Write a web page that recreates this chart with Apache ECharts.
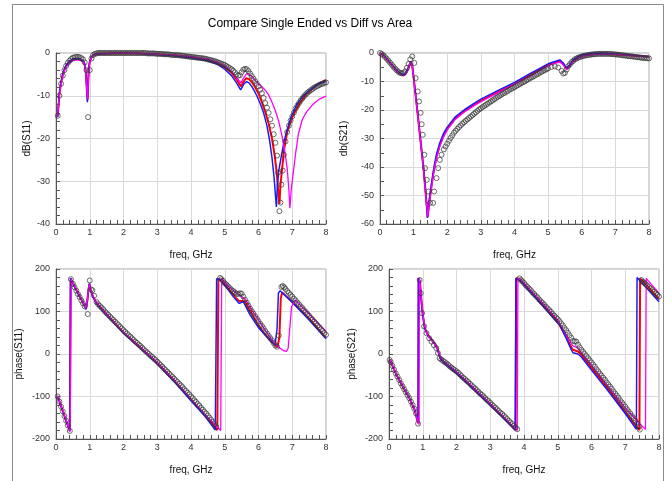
<!DOCTYPE html>
<html>
<head>
<meta charset="utf-8">
<script src="https://cdn.jsdelivr.net/npm/echarts/dist/echarts.min.js"></script>
<style>
  html, body { margin: 0; padding: 0; background: #fff; }
  #chart { width: 672px; height: 481px; }
</style>
</head>
<body>
<div id="chart"></div>
<script>
// dB(S11): [freq GHz, dB]
const s11dbBlue = [[0.05,-15],[0.1,-9.5],[0.15,-6.8],[0.2,-5],[0.25,-3.8],[0.3,-2.9],[0.4,-1.9],[0.5,-1.4],[0.6,-1.3],[0.7,-1.4],[0.8,-1.8],[0.85,-2.6],[0.88,-4],[0.91,-8],[0.93,-11.5],[0.95,-7.2],[0.97,-3.6],[1.0,-2],[1.05,-1],[1.1,-0.5],[1.2,-0.2],[1.5,-0.1],[2,0],[2.5,-0.1],[3,-0.35],[3.5,-0.65],[4,-1.1],[4.5,-1.8],[4.8,-2.7],[5,-3.8],[5.2,-5.3],[5.35,-7],[5.47,-8.6],[5.57,-7.2],[5.65,-6.7],[5.72,-7],[5.8,-7.8],[5.88,-8.9],[5.95,-10],[6.05,-11.8],[6.15,-14],[6.25,-17],[6.33,-20.5],[6.4,-24.5],[6.46,-29],[6.5,-33],[6.53,-36],[6.56,-31],[6.6,-27.5],[6.68,-24],[6.75,-21],[6.83,-18.4],[6.95,-15.3],[7.13,-12.1],[7.3,-10.2],[7.53,-8.6],[7.75,-7.4],[8,-6.6]];
const s11dbRed = [[0.05,-14.8],[0.1,-9.6],[0.15,-6.9],[0.2,-5.1],[0.25,-3.9],[0.3,-3],[0.4,-2],[0.5,-1.5],[0.6,-1.35],[0.7,-1.45],[0.8,-1.85],[0.85,-2.7],[0.88,-4.2],[0.91,-8],[0.935,-11],[0.955,-7],[0.975,-3.5],[1.0,-2],[1.05,-1],[1.1,-0.5],[1.2,-0.2],[1.5,-0.1],[2,0],[2.5,-0.1],[3,-0.3],[3.5,-0.55],[4,-0.95],[4.5,-1.6],[4.8,-2.4],[5,-3.3],[5.2,-4.6],[5.35,-6.2],[5.48,-7.8],[5.55,-6.8],[5.63,-5.9],[5.72,-6.1],[5.8,-6.8],[5.9,-8],[6,-9.5],[6.1,-11.5],[6.2,-13.8],[6.3,-16.5],[6.4,-20],[6.48,-24],[6.54,-28],[6.58,-32],[6.62,-35.3],[6.65,-31],[6.7,-27],[6.76,-22.5],[6.85,-18.5],[7,-15],[7.2,-12],[7.4,-9.8],[7.6,-8.3],[7.8,-7.1],[8,-6.3]];
const s11dbMagenta = [[0.05,-14.8],[0.1,-10],[0.15,-7.3],[0.2,-5.5],[0.25,-4.2],[0.3,-3.3],[0.4,-2.3],[0.5,-1.8],[0.6,-1.6],[0.7,-1.65],[0.8,-2],[0.85,-2.8],[0.88,-4.3],[0.91,-8],[0.935,-10.8],[0.955,-7],[0.975,-3.6],[1.0,-2.1],[1.05,-1.1],[1.1,-0.6],[1.2,-0.3],[1.5,-0.1],[2,0],[2.5,-0.1],[3,-0.3],[3.5,-0.5],[4,-0.85],[4.5,-1.45],[4.8,-2.2],[5,-3],[5.2,-4.3],[5.35,-5.8],[5.48,-7],[5.56,-5.8],[5.65,-4.8],[5.72,-4.9],[5.8,-5.5],[5.9,-6.4],[6,-7.2],[6.1,-7.9],[6.2,-8.7],[6.3,-9.8],[6.4,-11.5],[6.5,-13.5],[6.6,-16],[6.7,-19.5],[6.78,-23],[6.85,-27],[6.9,-32],[6.93,-36.3],[6.97,-32],[7.03,-28],[7.1,-23.5],[7.18,-19],[7.3,-15.5],[7.43,-13.7],[7.58,-12.3],[7.72,-11.3],[7.85,-10.6],[8,-10.1]];
const s11dbMeas = [[0.05,-14.7],[0.1,-10],[0.15,-7.2],[0.2,-5.3],[0.25,-4],[0.3,-3],[0.35,-2.3],[0.4,-1.8],[0.45,-1.4],[0.5,-1.1],[0.55,-1],[0.6,-0.9],[0.65,-0.9],[0.7,-1],[0.75,-1.2],[0.8,-1.5],[0.85,-2.2],[0.9,-4],[0.95,-15],[1.0,-4],[1.05,-1.3],[1.1,-0.5],[1.15,-0.2],[1.2,-0.1],[1.25,0],[1.3,0],[1.35,0],[1.4,0],[1.45,0],[1.5,0],[1.55,0],[1.6,0],[1.65,0],[1.7,0],[1.75,0],[1.8,0],[1.85,0],[1.9,0],[1.95,0],[2.0,0],[2.05,0],[2.1,0],[2.15,0],[2.2,0],[2.25,0],[2.3,0],[2.35,0],[2.4,0],[2.45,0],[2.5,0],[2.55,0],[2.6,0],[2.65,0],[2.7,-0.1],[2.75,-0.1],[2.8,-0.1],[2.85,-0.1],[2.9,-0.1],[2.95,-0.15],[3.0,-0.2],[3.05,-0.2],[3.1,-0.2],[3.15,-0.25],[3.2,-0.3],[3.25,-0.3],[3.3,-0.3],[3.35,-0.35],[3.4,-0.4],[3.45,-0.45],[3.5,-0.5],[3.55,-0.5],[3.6,-0.5],[3.65,-0.55],[3.7,-0.6],[3.75,-0.65],[3.8,-0.7],[3.85,-0.75],[3.9,-0.8],[3.95,-0.85],[4.0,-0.9],[4.05,-0.95],[4.1,-1],[4.15,-1.05],[4.2,-1.1],[4.25,-1.15],[4.3,-1.2],[4.35,-1.25],[4.4,-1.3],[4.45,-1.4],[4.5,-1.5],[4.55,-1.6],[4.6,-1.7],[4.65,-1.8],[4.7,-1.9],[4.75,-2.05],[4.8,-2.2],[4.85,-2.35],[4.9,-2.5],[4.95,-2.65],[5.0,-2.8],[5.05,-3.05],[5.1,-3.3],[5.15,-3.55],[5.2,-3.8],[5.25,-4.15],[5.3,-4.5],[5.35,-5],[5.4,-5.3],[5.45,-5.2],[5.5,-4.5],[5.55,-3.9],[5.6,-3.7],[5.65,-3.8],[5.7,-4.2],[5.75,-4.8],[5.8,-5.4],[5.85,-6],[5.9,-6.6],[5.95,-7.2],[6.0,-7.8],[6.05,-8.6],[6.1,-9.4],[6.15,-10.5],[6.2,-11.7],[6.25,-12.8],[6.3,-14],[6.35,-15.5],[6.4,-17],[6.45,-19],[6.5,-21],[6.55,-24],[6.58,-28],[6.62,-37],[6.65,-35],[6.68,-30.8],[6.72,-27.5],[6.75,-23.8],[6.8,-20.7],[6.85,-18.5],[6.9,-17],[6.95,-15.8],[7.0,-14.8],[7.05,-13.9],[7.1,-13],[7.15,-12.3],[7.2,-11.7],[7.25,-11.1],[7.3,-10.6],[7.35,-10.1],[7.4,-9.7],[7.45,-9.3],[7.5,-9],[7.55,-8.7],[7.6,-8.4],[7.65,-8.1],[7.7,-7.9],[7.75,-7.7],[7.8,-7.5],[7.85,-7.3],[7.9,-7.2],[7.95,-7.0],[8.0,-6.9]];

// dB(S21)
const s21dbBlue = [[0,0],[0.1,-0.8],[0.2,-2],[0.3,-3.4],[0.4,-4.8],[0.5,-6.1],[0.6,-7.1],[0.69,-7.6],[0.75,-7.2],[0.82,-5.8],[0.88,-4],[0.92,-2.9],[0.96,-4.5],[1.0,-8.5],[1.1,-19],[1.2,-30],[1.3,-41],[1.36,-49],[1.41,-57.9],[1.46,-52],[1.53,-46],[1.6,-40.5],[1.68,-35.5],[1.78,-31.5],[1.88,-28.5],[2,-26],[2.23,-22.5],[2.5,-20],[2.82,-17.5],[3,-16.2],[3.5,-13.2],[4,-10.3],[4.5,-7],[5,-3.8],[5.2,-3],[5.35,-2.4],[5.45,-3.5],[5.55,-5.3],[5.65,-4],[5.74,-2.4],[5.9,-1.2],[6.04,-0.6],[6.34,-0.1],[6.6,0],[7,-0.3],[7.5,-0.8],[8,-1.3]];
const s21dbRed = [[0,0],[0.1,-0.8],[0.2,-2.1],[0.3,-3.5],[0.4,-4.9],[0.5,-6.2],[0.6,-7.3],[0.69,-7.8],[0.75,-7.4],[0.82,-6],[0.88,-4.1],[0.92,-3],[0.96,-4.6],[1,-8.6],[1.1,-19.2],[1.2,-30.2],[1.3,-41.2],[1.36,-49.5],[1.42,-57.6],[1.47,-52],[1.54,-46],[1.61,-40.5],[1.69,-36],[1.78,-32.2],[1.88,-29.2],[2,-26.6],[2.23,-23],[2.5,-20.5],[2.82,-18],[3,-16.8],[3.5,-13.7],[4,-10.8],[4.5,-7.5],[5,-4.2],[5.2,-3.3],[5.35,-2.8],[5.45,-3.9],[5.55,-5.6],[5.65,-4.4],[5.74,-2.8],[5.9,-1.5],[6.04,-0.9],[6.34,-0.4],[6.6,-0.3],[7,-0.5],[7.5,-0.9],[8,-1.3]];
const s21dbMagenta = [[0,0],[0.1,-0.9],[0.2,-2.2],[0.3,-3.6],[0.4,-5],[0.5,-6.4],[0.6,-7.5],[0.7,-8],[0.76,-7.6],[0.82,-6.2],[0.88,-4.3],[0.92,-3.1],[0.96,-4.7],[1,-8.8],[1.1,-19.5],[1.2,-30.5],[1.3,-41.5],[1.36,-50],[1.42,-57.5],[1.47,-52.5],[1.54,-46.5],[1.61,-41],[1.69,-36.5],[1.78,-32.7],[1.88,-29.7],[2,-27],[2.23,-23.4],[2.5,-20.8],[2.82,-18.3],[3,-17.1],[3.5,-14],[4,-11],[4.5,-7.8],[5,-4.5],[5.2,-3.6],[5.35,-3.2],[5.45,-4.2],[5.55,-5.8],[5.65,-4.7],[5.74,-3.1],[5.9,-1.8],[6.04,-1.1],[6.34,-0.6],[6.6,-0.4],[7,-0.5],[7.5,-0.9],[8,-1.2]];
const s21dbMeas = [[0,0],[0.05,-0.3],[0.1,-0.8],[0.15,-1.4],[0.2,-2],[0.25,-2.7],[0.3,-3.4],[0.35,-4.1],[0.4,-4.8],[0.45,-5.5],[0.5,-6.1],[0.55,-6.6],[0.6,-7],[0.65,-7.1],[0.7,-7],[0.75,-6.4],[0.8,-5.2],[0.85,-3.8],[0.9,-2.2],[0.96,-1.2],[1.02,-3.5],[1.06,-8.8],[1.12,-13.5],[1.16,-17],[1.21,-21],[1.24,-25],[1.27,-28.7],[1.32,-35.7],[1.34,-40.4],[1.39,-44.5],[1.44,-48.6],[1.49,-52.6],[1.58,-52.6],[1.61,-48.6],[1.68,-43.9],[1.73,-40.4],[1.78,-37.5],[1.83,-35.7],[1.9,-33.8],[1.95,-32.8],[2,-31.8],[2.05,-30.8],[2.1,-29.8],[2.15,-28.9],[2.2,-28],[2.25,-27.3],[2.3,-26.6],[2.35,-26],[2.4,-25.4],[2.45,-24.8],[2.5,-24.3],[2.55,-23.8],[2.6,-23.3],[2.65,-22.8],[2.7,-22.3],[2.75,-21.8],[2.8,-21.3],[2.85,-20.8],[2.9,-20.3],[2.95,-19.8],[3,-19.4],[3.05,-19],[3.1,-18.6],[3.15,-18.2],[3.2,-17.8],[3.25,-17.4],[3.3,-17],[3.35,-16.6],[3.4,-16.2],[3.45,-15.8],[3.5,-15.4],[3.55,-15.1],[3.6,-14.7],[3.65,-14.3],[3.7,-14],[3.75,-13.6],[3.8,-13.3],[3.85,-12.9],[3.9,-12.6],[3.95,-12.3],[4,-12],[4.05,-11.6],[4.1,-11.3],[4.15,-10.9],[4.2,-10.6],[4.25,-10.3],[4.3,-10],[4.35,-9.6],[4.4,-9.3],[4.45,-8.9],[4.5,-8.6],[4.55,-8.3],[4.6,-8],[4.65,-7.6],[4.7,-7.3],[4.75,-6.9],[4.8,-6.6],[4.85,-6.3],[4.9,-6],[4.95,-5.7],[5,-5.4],[5.1,-4.9],[5.2,-4.7],[5.3,-5.1],[5.4,-6.3],[5.45,-7.2],[5.5,-7],[5.55,-5.8],[5.6,-4.6],[5.65,-3.9],[5.7,-3.2],[5.75,-2.7],[5.8,-2.2],[5.85,-1.9],[5.9,-1.6],[5.95,-1.4],[6,-1.2],[6.05,-1.05],[6.1,-0.9],[6.15,-0.8],[6.2,-0.7],[6.25,-0.6],[6.3,-0.5],[6.35,-0.45],[6.4,-0.4],[6.45,-0.35],[6.5,-0.3],[6.55,-0.3],[6.6,-0.3],[6.65,-0.3],[6.7,-0.3],[6.75,-0.3],[6.8,-0.3],[6.85,-0.35],[6.9,-0.4],[6.95,-0.45],[7,-0.5],[7.05,-0.55],[7.1,-0.6],[7.15,-0.7],[7.2,-0.8],[7.25,-0.85],[7.3,-0.9],[7.35,-1],[7.4,-1.1],[7.45,-1.15],[7.5,-1.2],[7.55,-1.3],[7.6,-1.4],[7.65,-1.45],[7.7,-1.5],[7.75,-1.6],[7.8,-1.7],[7.85,-1.75],[7.9,-1.8],[7.95,-1.85],[8,-1.9]];

// phase(S11), degrees
const s11phBlue = [[0.05,-100],[0.1,-112],[0.2,-135],[0.3,-158],[0.41,-182],[0.43,178],[0.5,166],[0.6,150],[0.7,135],[0.8,120],[0.89,105],[0.93,125],[0.96,150],[0.99,166],[1.03,150],[1.1,133],[1.2,119],[1.5,92],[2,49],[2.5,14],[3,-22],[3.5,-65],[4,-110],[4.4,-145],[4.72,-179],[4.76,177],[4.85,175],[5,162],[5.25,135],[5.43,119],[5.55,123],[5.75,92],[6,62],[6.24,41],[6.49,21],[6.55,60],[6.59,143],[6.64,149],[7,122],[7.5,80],[8,36]];
const s11phRed = [[0.05,-100],[0.1,-111],[0.2,-134],[0.3,-157],[0.41,-181],[0.435,178],[0.5,167],[0.6,151],[0.7,136],[0.8,121],[0.89,107],[0.93,127],[0.96,151],[0.99,165],[1.03,150],[1.1,134],[1.2,120],[1.5,93],[2,50],[2.5,15],[3,-21],[3.5,-63],[4,-108],[4.4,-143],[4.78,-179],[4.81,177],[4.88,175],[5,164],[5.2,145],[5.35,130],[5.42,125],[5.5,125],[5.6,124],[5.7,108],[5.8,95],[6,66],[6.2,45],[6.4,28],[6.56,16],[6.62,40],[6.66,130],[6.7,145],[7,122],[7.5,83],[8,38]];
const s11phMagenta = [[0.05,-98],[0.1,-110],[0.2,-133],[0.3,-156],[0.42,-182],[0.45,176],[0.5,168],[0.6,152],[0.7,137],[0.8,122],[0.89,108],[0.93,128],[0.96,152],[0.99,164],[1.03,150],[1.1,135],[1.2,121],[1.5,94],[2,51],[2.5,16],[3,-20],[3.5,-61],[4,-106],[4.4,-141],[4.88,-180],[4.91,178],[5.1,160],[5.3,146],[5.4,140],[5.5,135],[5.58,130],[5.65,124],[5.8,104],[6,80],[6.2,55],[6.44,29],[6.6,16],[6.74,8],[6.83,6],[6.88,14],[6.93,64],[6.98,111],[7.08,127],[7.5,94],[8,53]];
const s11phMeas = [[0.05,-100],[0.1,-112],[0.15,-124],[0.2,-135],[0.25,-146],[0.3,-157],[0.35,-168],[0.41,-181],[0.44,176],[0.5,165],[0.55,157],[0.6,149],[0.65,141],[0.7,134],[0.75,126],[0.8,119],[0.85,112],[0.94,94],[1.0,173],[1.04,152],[1.08,150],[1.13,137],[1.2,122],[1.25,117],[1.3,113],[1.35,109],[1.4,105],[1.45,100],[1.5,96],[1.55,92],[1.6,88],[1.65,84],[1.7,80],[1.75,76],[1.8,72],[1.85,68],[1.9,64],[1.95,60],[2,56],[2.05,52],[2.1,48],[2.15,44],[2.2,41],[2.25,37],[2.3,33],[2.35,29],[2.4,26],[2.45,22],[2.5,19],[2.55,15],[2.6,11],[2.65,7],[2.7,4],[2.75,0],[2.8,-4],[2.85,-7],[2.9,-11],[2.95,-14],[3,-18],[3.05,-22],[3.1,-26],[3.15,-30],[3.2,-34],[3.25,-38],[3.3,-42],[3.35,-46],[3.4,-50],[3.45,-54],[3.5,-58],[3.55,-62],[3.6,-66],[3.65,-70],[3.7,-74],[3.75,-78],[3.8,-83],[3.85,-87],[3.9,-91],[3.95,-95],[4,-100],[4.05,-104],[4.1,-109],[4.15,-113],[4.2,-118],[4.25,-122],[4.3,-127],[4.35,-131],[4.4,-136],[4.45,-140],[4.5,-145],[4.55,-150],[4.6,-155],[4.65,-160],[4.7,-165],[4.75,-172],[4.86,179],[4.9,176],[4.95,172],[5,167],[5.05,163],[5.1,159],[5.15,155],[5.2,151],[5.25,148],[5.3,145],[5.35,142],[5.4,141],[5.45,143],[5.5,142],[5.55,135],[5.6,128],[5.65,121],[5.7,114],[5.75,107],[5.8,101],[5.85,95],[5.9,89],[5.95,83],[6,77],[6.05,71],[6.1,66],[6.15,60],[6.2,54],[6.25,48],[6.3,43],[6.35,37],[6.4,32],[6.45,26],[6.5,20],[6.55,17],[6.6,43],[6.68,158],[6.72,160],[6.76,157],[6.8,153],[6.85,148],[6.9,144],[6.95,139],[7,135],[7.05,130],[7.1,126],[7.15,121],[7.2,117],[7.25,112],[7.3,108],[7.35,103],[7.4,99],[7.45,94],[7.5,90],[7.55,85],[7.6,81],[7.65,76],[7.7,72],[7.75,67],[7.8,63],[7.85,58],[7.9,54],[7.95,49],[8,45]];

// phase(S21), degrees
const s21phBlue = [[0.02,-13],[0.22,-49],[0.41,-76],[0.61,-104],[0.76,-131],[0.84,-155],[0.86,-162],[0.87,178],[0.91,172],[0.95,130],[0.99,96],[1.06,60],[1.15,44],[1.25,34],[1.35,24],[1.42,15],[1.47,2],[1.52,-10],[1.6,-18],[2,-45],[2.5,-82],[3,-120],[3.5,-160],[3.74,-179],[3.76,178],[3.85,176],[4.5,119],[4.96,76],[5.06,68],[5.25,37],[5.4,10],[5.45,3],[5.6,0],[5.7,-7],[6,-38],[6.5,-88],[7,-140],[7.33,-177],[7.35,180],[7.5,167],[8,123]];
const s21phRed = [[0.02,-13],[0.22,-49],[0.41,-77],[0.61,-105],[0.76,-132],[0.84,-157],[0.87,-163],[0.88,178],[0.92,170],[0.96,128],[1,94],[1.06,61],[1.15,45],[1.25,35],[1.35,25],[1.42,16],[1.47,3],[1.52,-9],[1.6,-17],[2,-44],[2.5,-81],[3,-119],[3.5,-158],[3.75,-179],[3.77,178],[3.86,177],[4.5,121],[5,76],[5.25,40],[5.4,16],[5.45,10],[5.6,6],[5.7,-2],[6,-33],[6.5,-84],[7,-136],[7.42,-179],[7.44,178],[7.6,165],[8,129]];
const s21phMagenta = [[0.02,-12],[0.22,-48],[0.41,-76],[0.61,-104],[0.76,-131],[0.85,-158],[0.89,-166],[0.9,178],[0.94,150],[0.98,112],[1.03,78],[1.1,52],[1.2,38],[1.3,28],[1.4,19],[1.46,8],[1.51,-5],[1.6,-15],[2,-42],[2.5,-79],[3,-117],[3.5,-156],[3.8,-180],[3.82,178],[3.9,175],[4.5,124],[5,80],[5.25,45],[5.4,24],[5.45,19],[5.6,14],[5.7,3],[6,-27],[6.5,-77],[7,-127],[7.5,-170],[7.6,-177],[7.62,178],[8,143]];
const s21phMeas = [[0.02,-14],[0.05,-19],[0.1,-28],[0.15,-37],[0.2,-46],[0.25,-53],[0.3,-61],[0.35,-69],[0.4,-76],[0.45,-83],[0.5,-90],[0.55,-97],[0.6,-104],[0.65,-112],[0.7,-120],[0.75,-129],[0.8,-140],[0.86,-164],[0.91,174],[0.94,143],[0.98,96],[1.04,65],[1.11,49],[1.19,37],[1.26,29],[1.33,21],[1.4,14],[1.45,2],[1.5,-10],[1.55,-13],[1.6,-16],[1.65,-19],[1.7,-22],[1.75,-25],[1.8,-29],[1.85,-32],[1.9,-35],[1.95,-38],[2,-41],[2.05,-44],[2.1,-48],[2.15,-52],[2.2,-56],[2.25,-59],[2.3,-63],[2.35,-66],[2.4,-70],[2.45,-74],[2.5,-78],[2.55,-81],[2.6,-85],[2.65,-89],[2.7,-93],[2.75,-96],[2.8,-100],[2.85,-104],[2.9,-108],[2.95,-111],[3,-115],[3.05,-119],[3.1,-123],[3.15,-126],[3.2,-130],[3.25,-134],[3.3,-138],[3.35,-141],[3.4,-145],[3.45,-149],[3.5,-153],[3.55,-157],[3.6,-161],[3.65,-165],[3.7,-169],[3.75,-173],[3.8,-177],[3.87,178],[3.91,174],[3.95,171],[4,167],[4.05,162],[4.1,158],[4.15,154],[4.2,150],[4.25,145],[4.3,141],[4.35,137],[4.4,133],[4.45,128],[4.5,124],[4.55,120],[4.6,116],[4.65,111],[4.7,107],[4.75,103],[4.8,99],[4.85,94],[4.9,90],[4.95,86],[5,82],[5.05,77],[5.1,72],[5.15,67],[5.2,61],[5.25,56],[5.3,50],[5.35,44],[5.4,38],[5.45,31],[5.5,30],[5.55,29],[5.6,22],[5.65,16],[5.7,10],[5.75,5],[5.8,0],[5.85,-5],[5.9,-10],[5.95,-15],[6,-20],[6.05,-25],[6.1,-30],[6.15,-36],[6.2,-41],[6.25,-46],[6.3,-51],[6.35,-56],[6.4,-61],[6.45,-67],[6.5,-72],[6.55,-77],[6.6,-82],[6.65,-88],[6.7,-93],[6.75,-98],[6.8,-103],[6.85,-109],[6.9,-114],[6.95,-119],[7,-124],[7.05,-130],[7.1,-135],[7.15,-140],[7.2,-146],[7.25,-151],[7.3,-157],[7.35,-163],[7.4,-170],[7.43,-178],[7.48,174],[7.52,170],[7.55,168],[7.6,165],[7.65,161],[7.7,157],[7.75,154],[7.8,150],[7.85,146],[7.9,142],[7.95,139],[8,135]];

const titleText = 'Compare Single Ended vs Diff vs Area';
const yNames = ['dB(S11)', 'db(S21)', 'phase(S11)', 'phase(S21)'];
const xName = 'freq, GHz';

const font = '"Liberation Sans", Arial, sans-serif';

// plot boxes
const grids = [
    { left: 56, top: 53, width: 270, height: 171 },
    { left: 380, top: 53, width: 269, height: 171 },
    { left: 56, top: 269, width: 270, height: 170 },
    { left: 389, top: 269, width: 270, height: 170 }
];

const yRanges = [
    { min: -40, max: 0, interval: 10, minor: 5, gap: 24 },
    { min: -60, max: 0, interval: 10, minor: 2, gap: 31 },
    { min: -200, max: 200, interval: 100, minor: 5, gap: 32 },
    { min: -200, max: 200, interval: 100, minor: 5, gap: 32 }
];

const axisCommon = {
    nameLocation: 'middle',
    nameTextStyle: { fontSize: 10, color: '#111', fontFamily: font },
    axisLine: { onZero: false, lineStyle: { color: '#555', width: 1 } },
    axisTick: { show: true, inside: true, length: 4, lineStyle: { color: '#555' } },
    minorTick: { show: true, length: 4, lineStyle: { color: '#555' } },
    splitLine: { show: true, lineStyle: { color: '#d9d9d9', width: 1 } },
    minorSplitLine: { show: false }
};

const xAxes = grids.map((g, i) => ({
    ...axisCommon,
    type: 'value', gridIndex: i, min: 0, max: 8, interval: 1,
    name: xName, nameGap: 26,
    minorTick: { ...axisCommon.minorTick, splitNumber: 5 },
    axisLabel: { fontSize: 9, color: '#333', margin: 4, fontFamily: font }
}));

const yAxes = yRanges.map((r, i) => ({
    ...axisCommon,
    type: 'value', gridIndex: i, min: r.min, max: r.max, interval: r.interval,
    name: yNames[i], nameGap: r.gap,
    minorTick: { ...axisCommon.minorTick, splitNumber: r.minor },
    axisLabel: { fontSize: 9, color: '#333', margin: 6, fontFamily: font }
}));

const lineSeries = (data, color, width, idx) => ({
    type: 'line', data, xAxisIndex: idx, yAxisIndex: idx,
    showSymbol: false, symbol: 'none',
    lineStyle: { color, width },
    z: 3
});

const measSeries = (data, idx) => ({
    type: 'scatter', data, xAxisIndex: idx, yAxisIndex: idx,
    symbol: 'circle', symbolSize: 5,
    itemStyle: { color: 'rgba(0,0,0,0)', borderColor: '#333', borderWidth: 0.9 },
    z: 4
});

const plots = [
    [s11dbRed, s11dbBlue, s11dbMagenta, s11dbMeas],
    [s21dbRed, s21dbBlue, s21dbMagenta, s21dbMeas],
    [s11phRed, s11phBlue, s11phMagenta, s11phMeas],
    [s21phRed, s21phBlue, s21phMagenta, s21phMeas]
];

const series = [];
plots.forEach((p, i) => {
    series.push(lineSeries(p[0], '#ff0000', 2, i));
    series.push(lineSeries(p[1], '#1a1aff', 1.5, i));
    series.push(lineSeries(p[2], '#ff00ff', 1.3, i));
    series.push(measSeries(p[3], i));
});

const myChart = echarts.init(document.getElementById('chart'), null, { renderer: 'canvas' });

const option = {
    animation: false,
    backgroundColor: '#fff',
    textStyle: { fontFamily: font },
    grid: grids.map(g => ({ ...g, show: true, borderColor: '#a8a8a8', borderWidth: 1, backgroundColor: 'transparent' })),
    xAxis: xAxes,
    yAxis: yAxes,
    series,
    graphic: [
        {
            type: 'rect', silent: true,
            shape: { x: 12.5, y: 4.5, width: 651, height: 500 },
            style: { fill: null, stroke: '#8a8a8a', lineWidth: 1 }
        },
        {
            type: 'text', x: 310, y: 24,
            style: {
                text: titleText, fill: '#000', font: '12px ' + font,
                textAlign: 'center', textVerticalAlign: 'middle'
            }
        }
    ]
};

myChart.setOption(option);
</script>
</body>
</html>
